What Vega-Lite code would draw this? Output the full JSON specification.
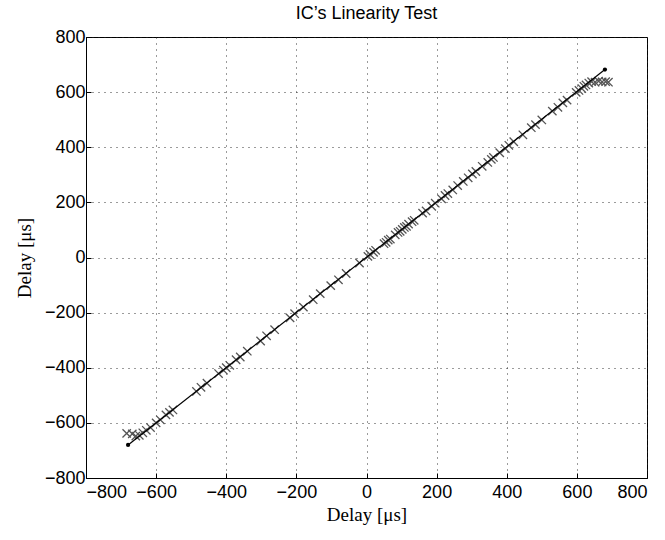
{
  "$schema": "https://vega.github.io/schema/vega-lite/v6.json",
  "width": 561,
  "height": 441,
  "autosize": {"type": "none"},
  "padding": {"left": 86, "top": 37, "right": 18, "bottom": 62},
  "title": {"text": "IC’s Linearity Test", "font": "Liberation Sans", "fontSize": 18, "fontWeight": "normal", "color": "#000", "offset": 5, "anchor": "middle"},
  "config": {
    "view": {"stroke": "#000", "strokeWidth": 1},
    "axis": {
      "domainColor": "#000", "tickColor": "#000", "tickSize": -5, "tickWidth": 1,
      "labelFont": "Liberation Sans", "labelFontSize": 18, "labelColor": "#000",
      "titleFont": "Liberation Serif", "titleFontSize": 19, "titleFontWeight": "normal", "titleColor": "#000",
      "gridColor": "#222", "gridDash": [1, 5], "gridOpacity": 0.9, "gridWidth": 1
    }
  },
  "datasets": {
    "m": [
      {"x": -684, "y": -638}, {"x": -668, "y": -640}, {"x": -658, "y": -648}, {"x": -648, "y": -645},
      {"x": -638, "y": -636}, {"x": -628, "y": -627}, {"x": -616, "y": -617}, {"x": -600, "y": -600},
      {"x": -588, "y": -589}, {"x": -572, "y": -571}, {"x": -562, "y": -562}, {"x": -552, "y": -553},
      {"x": -485, "y": -486}, {"x": -472, "y": -471}, {"x": -455, "y": -456}, {"x": -422, "y": -421},
      {"x": -408, "y": -409}, {"x": -400, "y": -400}, {"x": -390, "y": -391}, {"x": -372, "y": -371},
      {"x": -360, "y": -361}, {"x": -340, "y": -340}, {"x": -302, "y": -303}, {"x": -285, "y": -284},
      {"x": -262, "y": -262}, {"x": -218, "y": -219}, {"x": -205, "y": -204}, {"x": -180, "y": -180},
      {"x": -152, "y": -153}, {"x": -132, "y": -131}, {"x": -102, "y": -102}, {"x": -80, "y": -81},
      {"x": -58, "y": -58}, {"x": -20, "y": -20}, {"x": 4, "y": 4}, {"x": 10, "y": 11}, {"x": 20, "y": 19},
      {"x": 26, "y": 26}, {"x": 50, "y": 50}, {"x": 56, "y": 55}, {"x": 62, "y": 63}, {"x": 68, "y": 67},
      {"x": 82, "y": 82}, {"x": 90, "y": 91}, {"x": 96, "y": 95}, {"x": 102, "y": 102}, {"x": 108, "y": 109},
      {"x": 114, "y": 113}, {"x": 120, "y": 121}, {"x": 130, "y": 130}, {"x": 136, "y": 135},
      {"x": 160, "y": 161}, {"x": 170, "y": 169}, {"x": 186, "y": 186}, {"x": 196, "y": 197},
      {"x": 214, "y": 213}, {"x": 224, "y": 225}, {"x": 232, "y": 232}, {"x": 246, "y": 245},
      {"x": 260, "y": 261}, {"x": 276, "y": 276}, {"x": 290, "y": 289}, {"x": 302, "y": 303},
      {"x": 312, "y": 312}, {"x": 330, "y": 331}, {"x": 346, "y": 345}, {"x": 356, "y": 356},
      {"x": 362, "y": 363}, {"x": 380, "y": 380}, {"x": 396, "y": 395}, {"x": 406, "y": 407},
      {"x": 420, "y": 420}, {"x": 446, "y": 445}, {"x": 470, "y": 471}, {"x": 482, "y": 482},
      {"x": 500, "y": 499}, {"x": 530, "y": 531}, {"x": 546, "y": 545}, {"x": 560, "y": 561},
      {"x": 572, "y": 571}, {"x": 598, "y": 599}, {"x": 606, "y": 606}, {"x": 614, "y": 613},
      {"x": 620, "y": 621}, {"x": 626, "y": 626}, {"x": 634, "y": 633},
      {"x": 642, "y": 638}, {"x": 652, "y": 636}, {"x": 662, "y": 640}, {"x": 672, "y": 637},
      {"x": 682, "y": 638}, {"x": 690, "y": 636}
    ],
    "f": [
      {"x": -680, "y": -680},
      {"x": 680, "y": 682}
    ]
  },
  "layer": [
    {
      "data": {"name": "m"},
      "mark": {"type": "point", "shape": "M-1,-1L1,1M-1,1L1,-1", "size": 70, "stroke": "#555", "strokeWidth": 1.3, "filled": false, "opacity": 1},
      "encoding": {
        "x": {"field": "x", "type": "quantitative", "scale": {"domain": [-800, 800], "nice": false}, "axis": {"values": [-800, -600, -400, -200, 0, 200, 400, 600, 800], "title": "Delay [μs]", "labelPadding": 10, "titlePadding": 4}},
        "y": {"field": "y", "type": "quantitative", "scale": {"domain": [-800, 800], "nice": false}, "axis": {"values": [-800, -600, -400, -200, 0, 200, 400, 600, 800], "title": "Delay [μs]", "labelPadding": 6, "titlePadding": 10}}
      }
    },
    {
      "data": {"name": "f"},
      "mark": {"type": "line", "color": "#000", "strokeWidth": 1.2, "point": {"filled": true, "color": "#000", "size": 18}},
      "encoding": {
        "x": {"field": "x", "type": "quantitative"},
        "y": {"field": "y", "type": "quantitative"}
      }
    }
  ]
}
